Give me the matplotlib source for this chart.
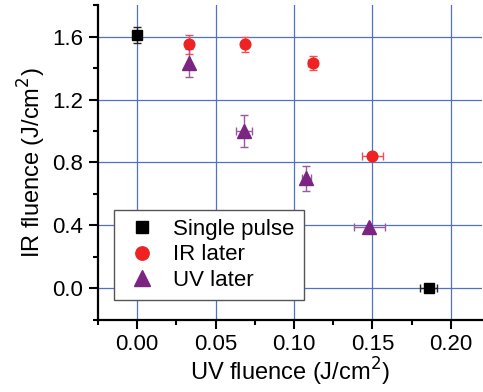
import numpy as np
import matplotlib.pyplot as plt

plt.rcParams['font.family'] = ['Liberation Sans', 'DejaVu Sans']

# Single pulse
sp_x = [0.0, 0.186]
sp_y = [1.61, 0.0]
sp_xerr = [0.0, 0.0053]
sp_yerr = [0.05, 0.0]

# IR later
ir_x = [0.033, 0.069, 0.112, 0.150]
ir_y = [1.55, 1.55, 1.43, 0.84]
ir_xerr = [0.0, 0.0, 0.003, 0.0068]
ir_yerr = [0.06, 0.05, 0.045, 0.02]

# UV later
uv_x = [0.033, 0.068, 0.108, 0.148]
uv_y = [1.43, 1.00, 0.70, 0.39]
uv_xerr = [0.0, 0.005, 0.003, 0.010]
uv_yerr = [0.09, 0.10, 0.08, 0.0]

xticks = [0.00, 0.05, 0.10, 0.15, 0.20]
yticks = [0.0, 0.4, 0.8, 1.2, 1.6]

fig = plt.figure(figsize=(4.83, 3.92), dpi=100)
ax = fig.add_axes([0.203, 0.184, 0.795, 0.803])

grid_c = '#4f72c4'
for v in xticks:
    ax.axvline(v, color=grid_c, lw=0.9, zorder=0)
for v in yticks:
    ax.axhline(v, color=grid_c, lw=0.9, zorder=0)

sp = ax.errorbar(sp_x, sp_y, xerr=sp_xerr, yerr=sp_yerr, fmt='s', color='black',
                 ms=6.7, ecolor='#222222', elinewidth=1, capsize=3, capthick=1,
                 zorder=3)
ir = ax.errorbar(ir_x, ir_y, xerr=ir_xerr, yerr=ir_yerr, fmt='o', color='#ee2222',
                 ms=7.7, ecolor='#f05050', elinewidth=1, capsize=3, capthick=1,
                 zorder=3)
uv = ax.errorbar(uv_x, uv_y, xerr=uv_xerr, yerr=uv_yerr, fmt='^', color='#7a2581',
                 ms=9.5, ecolor='#9a5aa0', elinewidth=1, capsize=3, capthick=1,
                 zorder=3)

ax.set_xlim(-0.025, 0.22)
ax.set_ylim(-0.2, 1.8)
ax.set_xticks(xticks)
ax.set_yticks(yticks)
ax.set_xticklabels(['%.2f' % v for v in xticks])
ax.set_yticklabels(['%.1f' % v for v in yticks])
ax.set_xticks(np.arange(-0.025, 0.221, 0.025), minor=True)
ax.set_yticks(np.arange(-0.2, 1.81, 0.2), minor=True)

for s in ['top', 'right']:
    ax.spines[s].set_visible(False)
for s in ['left', 'bottom']:
    ax.spines[s].set_linewidth(1.6)
ax.tick_params(which='major', direction='out', length=6.5, width=1.5,
               labelsize=16, pad=4)
ax.tick_params(which='minor', direction='out', length=3.5, width=1.5)

ax.set_xlabel('UV fluence (J/cm$^2$)', fontsize=17, labelpad=0)
ax.set_ylabel('IR fluence (J/cm$^2$)', fontsize=17, labelpad=3)

leg = ax.legend([sp[0], ir[0], uv[0]], ['Single pulse', 'IR later', 'UV later'],
                loc='upper left', bbox_to_anchor=(0.0417, 0.349), borderaxespad=0,
                fontsize=16, frameon=True, fancybox=False, edgecolor='#555555',
                markerscale=1.25, handlelength=1.7, handletextpad=0.57,
                borderpad=0.4, labelspacing=0.2)
leg.get_frame().set_linewidth(1)
leg.get_frame().set_alpha(1)

fig.savefig('out.png', dpi=100)
